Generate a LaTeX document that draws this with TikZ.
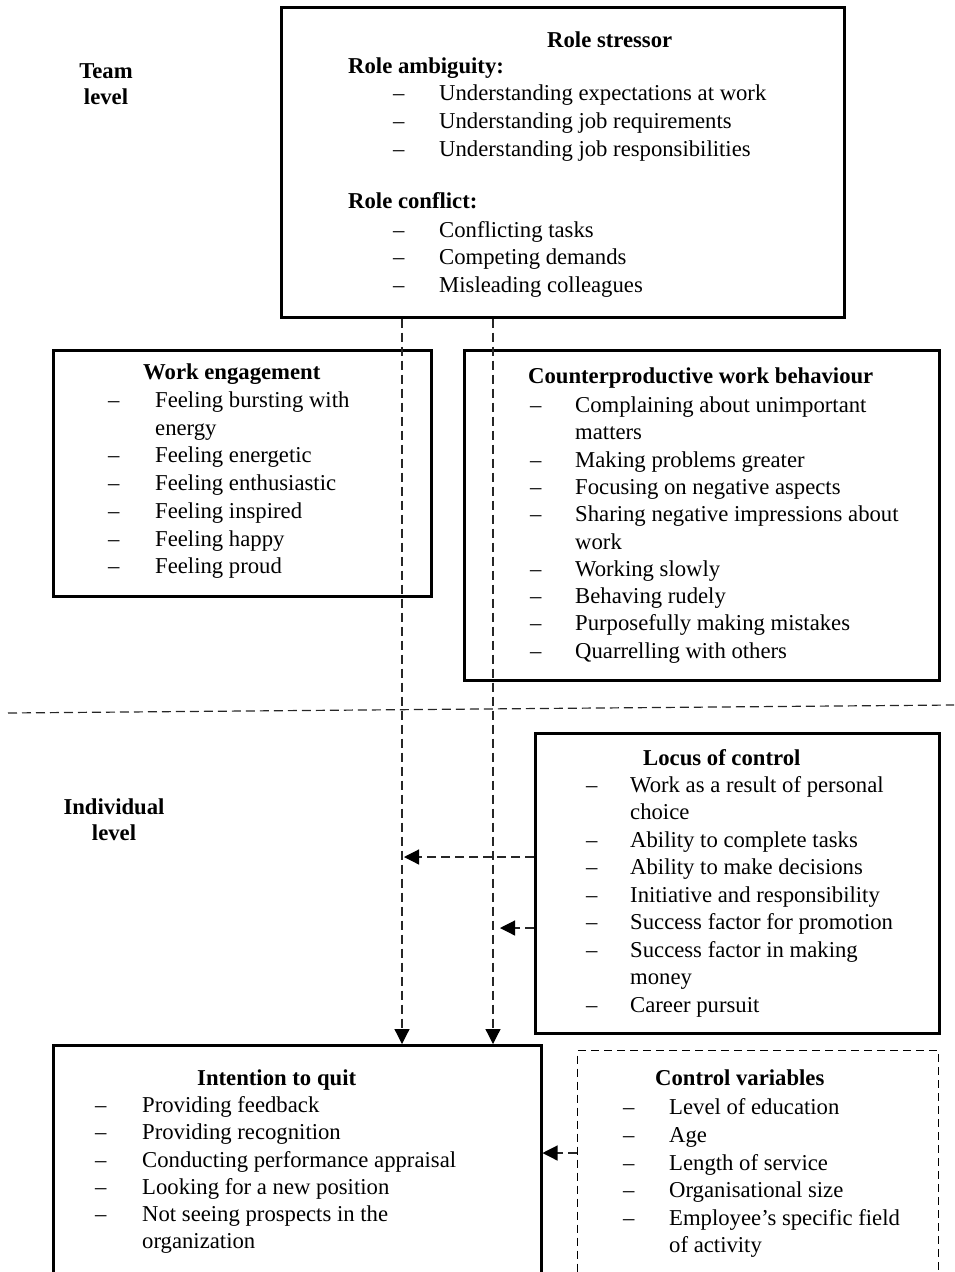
\documentclass[tikz,border=0pt]{standalone}
\usepackage{fontspec}
\setmainfont{Liberation Serif}
\usetikzlibrary{arrows.meta}
\newcommand{\bodyfont}{\fontsize{22.7pt}{27.5pt}\selectfont}
\tikzset{
	box/.style={draw, line width=2.5pt, inner sep=0pt, anchor=north west},
	dbox/.style={draw, line width=1.3pt, dash pattern=on 8pt off 5pt, inner sep=0pt, anchor=north west},
	txt/.style={anchor=base west, inner sep=0pt, font=\bodyfont},
	ttl/.style={anchor=base west, inner sep=0pt, font=\bodyfont\bfseries},
	lvl/.style={anchor=base, inner sep=0pt, font=\bodyfont\bfseries},
	dline/.style={line width=1.2pt, dash pattern=on 9pt off 5pt, color=black!85},
	arr/.style={-{Triangle[length=15pt, width=15pt, color=black]}}
}

\begin{document}
\begin{tikzpicture}[x=1pt, y=-1pt]
			%%%%% START %%%%%
			\clip (0,0) rectangle (954,1272);
			
			\node[lvl] (team1) at (106,78) {Team};
			\node[lvl] (team2) at (106,104) {level};
			\node[lvl] (ind1) at (114,814) {Individual};
			\node[lvl] (ind2) at (114,840) {level};
			
			% role stressor
			\node[box, minimum width=563pt, minimum height=310pt] (stressor) at (280,6) {};
			\node[ttl] (stressorT) at (547,47) {Role stressor};
			\node[ttl] (ambT) at (348,73) {Role ambiguity:};
			\node[txt] (amb1d) at (393,100) {--}; \node[txt] (amb1) at (439,100) {Understanding expectations at work};
			\node[txt] (amb2d) at (393,128) {--}; \node[txt] (amb2) at (439,128) {Understanding job requirements};
			\node[txt] (amb3d) at (393,156) {--}; \node[txt] (amb3) at (439,156) {Understanding job responsibilities};
			\node[ttl] (conT) at (348,208) {Role conflict:};
			\node[txt] (con1d) at (393,237) {--}; \node[txt] (con1) at (439,237) {Conflicting tasks};
			\node[txt] (con2d) at (393,264.5) {--}; \node[txt] (con2) at (439,264.5) {Competing demands};
			\node[txt] (con3d) at (393,292) {--}; \node[txt] (con3) at (439,292) {Misleading colleagues};
			
			% work engagement
			\node[box, minimum width=378pt, minimum height=246pt] (engage) at (52,349) {};
			\node[ttl] (engageT) at (143,379) {Work engagement};
			\node[txt] (we1d) at (108,407) {--}; \node[txt] (we1) at (155,407) {Feeling bursting with};
			\node[txt] (we1b) at (155,435) {energy};
			\node[txt] (we2d) at (108,462) {--}; \node[txt] (we2) at (155,462) {Feeling energetic};
			\node[txt] (we3d) at (108,490) {--}; \node[txt] (we3) at (155,490) {Feeling enthusiastic};
			\node[txt] (we4d) at (108,518) {--}; \node[txt] (we4) at (155,518) {Feeling inspired};
			\node[txt] (we5d) at (108,546) {--}; \node[txt] (we5) at (155,546) {Feeling happy};
			\node[txt] (we6d) at (108,573) {--}; \node[txt] (we6) at (155,573) {Feeling proud};
			
			% counterproductive work behaviour
			\node[box, minimum width=475pt, minimum height=330pt] (cwb) at (463,349) {};
			\node[ttl] (cwbT) at (528,383) {Counterproductive work behaviour};
			\node[txt] (cw1d) at (530,412) {--}; \node[txt] (cw1) at (575,412) {Complaining about unimportant};
			\node[txt] (cw1b) at (575,439) {matters};
			\node[txt] (cw2d) at (530,467) {--}; \node[txt] (cw2) at (575,467) {Making problems greater};
			\node[txt] (cw3d) at (530,494) {--}; \node[txt] (cw3) at (575,494) {Focusing on negative aspects};
			\node[txt] (cw4d) at (530,521) {--}; \node[txt] (cw4) at (575,521) {Sharing negative impressions about};
			\node[txt] (cw4b) at (575,549) {work};
			\node[txt] (cw5d) at (530,576) {--}; \node[txt] (cw5) at (575,576) {Working slowly};
			\node[txt] (cw6d) at (530,603) {--}; \node[txt] (cw6) at (575,603) {Behaving rudely};
			\node[txt] (cw7d) at (530,630) {--}; \node[txt] (cw7) at (575,630) {Purposefully making mistakes};
			\node[txt] (cw8d) at (530,658) {--}; \node[txt] (cw8) at (575,658) {Quarrelling with others};
			
			\draw[dline] (8,713) -- (954,705);
			
			% locus of control
			\node[box, minimum width=404pt, minimum height=300pt] (locus) at (534,732) {};
			\node[ttl] (locusT) at (643,765) {Locus of control};
			\node[txt] (lc1d) at (586,792) {--}; \node[txt] (lc1) at (630,792) {Work as a result of personal};
			\node[txt] (lc1b) at (630,819.5) {choice};
			\node[txt] (lc2d) at (586,847) {--}; \node[txt] (lc2) at (630,847) {Ability to complete tasks};
			\node[txt] (lc3d) at (586,874.5) {--}; \node[txt] (lc3) at (630,874.5) {Ability to make decisions};
			\node[txt] (lc4d) at (586,902) {--}; \node[txt] (lc4) at (630,902) {Initiative and responsibility};
			\node[txt] (lc5d) at (586,929.5) {--}; \node[txt] (lc5) at (630,929.5) {Success factor for promotion};
			\node[txt] (lc6d) at (586,957) {--}; \node[txt] (lc6) at (630,957) {Success factor in making};
			\node[txt] (lc6b) at (630,984.5) {money};
			\node[txt] (lc7d) at (586,1012) {--}; \node[txt] (lc7) at (630,1012) {Career pursuit};
			
			% intention to quit
			\node[box, minimum width=488pt, minimum height=300pt] (quit) at (52,1044) {};
			\node[ttl] (quitT) at (197,1085) {Intention to quit};
			\node[txt] (iq1d) at (95,1112) {--}; \node[txt] (iq1) at (142,1112) {Providing feedback};
			\node[txt] (iq2d) at (95,1139) {--}; \node[txt] (iq2) at (142,1139) {Providing recognition};
			\node[txt] (iq3d) at (95,1167) {--}; \node[txt] (iq3) at (142,1167) {Conducting performance appraisal};
			\node[txt] (iq4d) at (95,1194) {--}; \node[txt] (iq4) at (142,1194) {Looking for a new position};
			\node[txt] (iq5d) at (95,1221) {--}; \node[txt] (iq5) at (142,1221) {Not seeing prospects in the};
			\node[txt] (iq5b) at (142,1248) {organization};
			
			% control variables
			\node[dbox, minimum width=361pt, minimum height=300pt] (control) at (577,1050) {};
			\node[ttl] (controlT) at (655,1085) {Control variables};
			\node[txt] (cv1d) at (623,1114) {--}; \node[txt] (cv1) at (669,1114) {Level of education};
			\node[txt] (cv2d) at (623,1142) {--}; \node[txt] (cv2) at (669,1142) {Age};
			\node[txt] (cv3d) at (623,1170) {--}; \node[txt] (cv3) at (669,1170) {Length of service};
			\node[txt] (cv4d) at (623,1197) {--}; \node[txt] (cv4) at (669,1197) {Organisational size};
			\node[txt] (cv5d) at (623,1225) {--}; \node[txt] (cv5) at (669,1225) {Employee’s specific field};
			\node[txt] (cv5b) at (669,1252) {of activity};
			
			% connectors
			\coordinate (lineA) at (402,0);
			\coordinate (lineB) at (493,0);
			\coordinate (hitA) at (404,857);
			\coordinate (hitB) at (500,928);
			\coordinate (hitC) at (0,1153);
			
			\draw[dline, arr] (stressor.south -| lineA) -- (quit.north -| lineA);
			\draw[dline, arr] (stressor.south -| lineB) -- (quit.north -| lineB);
			\draw[dline, arr] (hitA -| locus.west) -- (hitA);
			\draw[dline, arr] (hitB -| locus.west) -- (hitB);
			\draw[dline, arr] (hitC -| control.west) -- (hitC -| quit.east);
			
			%%%%% END %%%%%
\end{tikzpicture}
\end{document}
